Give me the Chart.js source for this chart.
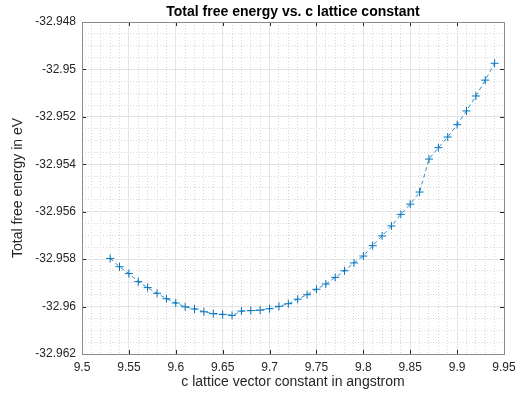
<!DOCTYPE html>
<html>
<head>
<meta charset="utf-8">
<script src="https://cdn.jsdelivr.net/npm/chart.js@4/dist/chart.umd.min.js"></script>
<style>
html,body{margin:0;padding:0;background:#fff;}
#wrap{width:522px;height:403px;position:relative;}
</style>
</head>
<body>
<div id="wrap"><canvas id="c" width="522" height="403"></canvas></div>
<script>
const latticeC = [9.53,9.54,9.55,9.56,9.57,9.58,9.59,9.60,9.61,9.62,9.63,9.64,9.65,9.66,9.67,9.68,9.69,9.70,9.71,9.72,9.73,9.74,9.75,9.76,9.77,9.78,9.79,9.80,9.81,9.82,9.83,9.84,9.85,9.86,9.87,9.88,9.89,9.90,9.91,9.92,9.93,9.94];
const freeEnergy = [-32.95797,-32.95832,-32.95861,-32.95895,-32.95920,-32.95944,-32.95967,-32.95985,-32.96001,-32.96010,-32.96022,-32.96030,-32.96033,-32.96037,-32.96019,-32.96017,-32.96015,-32.96009,-32.95999,-32.95988,-32.95969,-32.95950,-32.95927,-32.95905,-32.95877,-32.95849,-32.95816,-32.95787,-32.95743,-32.95702,-32.95660,-32.95611,-32.95568,-32.95517,-32.95378,-32.95330,-32.95285,-32.95233,-32.95175,-32.95112,-32.95045,-32.94974];
const xTicks = [9.5,9.55,9.6,9.65,9.7,9.75,9.8,9.85,9.9,9.95];
const yTicks = [-32.962,-32.96,-32.958,-32.956,-32.954,-32.952,-32.95,-32.948];
const titleText = 'Total free energy vs. c lattice constant';
const xLabel = 'c lattice vector constant in angstrom';
const yLabel = 'Total free energy in eV';

const axisColor = '#262626';
const font = 'Liberation Sans, Arial, Helvetica, sans-serif';

const points = latticeC.map((x,i)=>({x:x,y:freeEnergy[i]}));

function fmt(v){ return String(Number(v.toFixed(6))); }

const boxPlugin = {
  id:'box',
  afterDraw(chart){
    const {ctx, chartArea:a} = chart;
    const xs = chart.scales.x, ys = chart.scales.y;
    ctx.save();
    ctx.strokeStyle = axisColor;
    ctx.lineWidth = 1;
    ctx.beginPath();
    const tl = 4;
    xTicks.forEach(v=>{
      const p = Math.round(xs.getPixelForValue(v))+0.5;
      ctx.moveTo(p,a.bottom); ctx.lineTo(p,a.bottom-tl);
      ctx.moveTo(p,a.top); ctx.lineTo(p,a.top+tl);
    });
    yTicks.forEach(v=>{
      const p = Math.round(ys.getPixelForValue(v))+0.5;
      ctx.moveTo(a.left,p); ctx.lineTo(a.left+tl,p);
      ctx.moveTo(a.right,p); ctx.lineTo(a.right-tl,p);
    });
    ctx.stroke();
    ctx.strokeStyle = '#8c8c8c';
    ctx.strokeRect(Math.round(a.left)+0.5, Math.round(a.top)+0.5, Math.round(a.right-a.left), Math.round(a.bottom-a.top));
    ctx.restore();
  }
};

new Chart(document.getElementById('c'), {
  type:'scatter',
  data:{datasets:[{
    data:points,
    showLine:true,
    borderColor:'#0072BD',
    backgroundColor:'#0072BD',
    borderWidth:0.8,
    borderDash:[4,3],
    pointStyle:'cross',
    pointRadius:4,
    pointBorderWidth:1,
    pointBorderColor:'#0072BD',
    pointHoverRadius:4
  }]},
  options:{
    responsive:false,
    animation:false,
    events:[],
    layout:{padding:{left:0,right:18,top:0,bottom:0}},
    plugins:{
      legend:{display:false},
      tooltip:{enabled:false},
      title:{display:false}
    },
    scales:{
      xt:{type:'linear',position:'top',min:9.5,max:9.95,display:true,
        afterFit(s){s.height=22;},
        ticks:{display:false},
        border:{display:false},
        grid:{display:false,drawTicks:false},
        title:{display:true,text:titleText,color:'#000',font:{family:font,size:14,weight:'bold'},padding:{top:4,bottom:0}}
      },
      xm:{type:'linear',position:'bottom',min:9.5,max:9.95,display:true,
        afterFit(s){s.height=0;},
        ticks:{display:false,stepSize:0.01},
        border:{display:false,dash:[1,2]},
        grid:{color:'#d6d6d6',lineWidth:1,drawTicks:false}
      },
      ym:{type:'linear',position:'left',min:-32.962,max:-32.948,display:true,
        afterFit(s){s.width=0;},
        ticks:{display:false,stepSize:0.0005},
        border:{display:false,dash:[1,2]},
        grid:{color:'#d6d6d6',lineWidth:1,drawTicks:false}
      },
      x:{type:'linear',position:'bottom',min:9.5,max:9.95,
        afterFit(s){s.height=49;},
        afterBuildTicks(s){s.ticks=xTicks.map(v=>({value:v}));},
        ticks:{color:axisColor,font:{family:font,size:12},padding:6,callback:v=>fmt(v),maxRotation:0,autoSkip:false},
        border:{display:false},
        grid:{color:'#e4e4e4',lineWidth:1,drawTicks:false},
        title:{display:true,text:xLabel,color:axisColor,font:{family:font,size:14},padding:{top:0,bottom:12}}
      },
      y:{type:'linear',position:'left',min:-32.962,max:-32.948,
        afterFit(s){s.width=82;},
        afterBuildTicks(s){s.ticks=yTicks.map(v=>({value:v}));},
        ticks:{color:axisColor,font:{family:font,size:12},padding:6,callback:v=>fmt(v),autoSkip:false},
        border:{display:false},
        grid:{color:'#e4e4e4',lineWidth:1,drawTicks:false},
        title:{display:true,text:yLabel,color:axisColor,font:{family:font,size:14},padding:{top:10,bottom:0}}
      }
    }
  },
  plugins:[boxPlugin]
});
</script>
</body>
</html>
